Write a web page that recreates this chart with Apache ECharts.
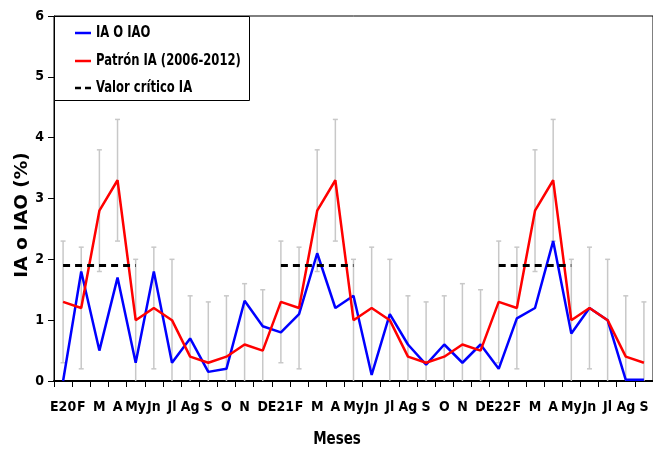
<!DOCTYPE html>
<html>
<head>
<meta charset="utf-8">
<script src="https://cdn.jsdelivr.net/npm/echarts@6/dist/echarts.min.js"></script>
<style>
  html, body { margin: 0; padding: 0; background: #fff; }
  #chart { width: 653px; height: 456px; }
</style>
</head>
<body>
<div id="chart"></div>
<script>
// Meses (enero 2020 a septiembre 2022)
var meses = ['E20','F','M','A','My','Jn','Jl','Ag','S','O','N','D',
             'E21','F','M','A','My','Jn','Jl','Ag','S','O','N','D',
             'E22','F','M','A','My','Jn','Jl','Ag','S'];

// Índice de infestación observado
var iaObservado = [0, 1.8, 0.5, 1.7, 0.3, 1.8, 0.3, 0.7, 0.15, 0.2, 1.32, 0.9,
                   0.8, 1.1, 2.1, 1.2, 1.4, 0.1, 1.1, 0.6, 0.27, 0.6, 0.3, 0.6,
                   0.2, 1.03, 1.2, 2.3, 0.78, 1.2, 1.0, 0.02, 0.02];

// Patrón histórico 2006-2012
var patronIA = [1.3, 1.2, 2.8, 3.3, 1.0, 1.2, 1.0, 0.4, 0.3, 0.4, 0.6, 0.5,
                1.3, 1.2, 2.8, 3.3, 1.0, 1.2, 1.0, 0.4, 0.3, 0.4, 0.6, 0.5,
                1.3, 1.2, 2.8, 3.3, 1.0, 1.2, 1.0, 0.4, 0.3];

// Desviación del patrón (barras de error)
var desviacion = [1.0, 1.0, 1.0, 1.0, 1.0, 1.0, 1.0, 1.0, 1.0, 1.0, 1.0, 1.0,
                  1.0, 1.0, 1.0, 1.0, 1.0, 1.0, 1.0, 1.0, 1.0, 1.0, 1.0, 1.0,
                  1.0, 1.0, 1.0, 1.0, 1.0, 1.0, 1.0, 1.0, 1.0];

// Valor crítico (enero a mayo de cada año)
var valorCritico = [1.9, 1.9, 1.9, 1.9, 1.9, null, null, null, null, null, null, null,
                    1.9, 1.9, 1.9, 1.9, 1.9, null, null, null, null, null, null, null,
                    1.9, 1.9, 1.9, 1.9, 1.9, null, null, null, null];

var yTicks = [0, 1, 2, 3, 4, 5, 6];

var leyenda = ['IA O IAO', 'Patrón IA (2006-2012)', 'Valor crítico IA'];

var FONT = "'DejaVu Sans Condensed', 'DejaVu Sans', sans-serif";
var AZUL = '#0000ff', ROJO = '#ff0000', NEGRO = '#000';

var errData = patronIA.map(function (v, i) {
  return [i, v - desviacion[i], v + desviacion[i]];
});

// Legend box drawn as graphics: frame, line samples and labels
function legendGraphics() {
  var x0 = 54, y0 = 16, rows = [33, 61, 88];
  var styles = [
    { stroke: AZUL, lineWidth: 2.5 },
    { stroke: ROJO, lineWidth: 2.5 },
    { stroke: NEGRO, lineWidth: 2.5, lineDash: [6, 4] }
  ];
  var els = [{
    type: 'rect', z: 10,
    shape: { x: x0 + 0.5, y: y0 + 0.5, width: 195, height: 84 },
    style: { fill: '#fff', stroke: NEGRO, lineWidth: 1 }
  }];
  leyenda.forEach(function (name, k) {
    els.push({
      type: 'line', z: 11,
      shape: { x1: 75, y1: rows[k], x2: 91, y2: rows[k] },
      style: styles[k]
    });
    els.push({
      type: 'text', z: 11, x: 96, y: rows[k], scaleX: 0.86,
      style: { text: name, fontFamily: FONT, fontWeight: 'bold', fontSize: 15,
               fill: NEGRO, verticalAlign: 'middle' }
    });
  });
  return els;
}

var chart = echarts.init(document.getElementById('chart'), null, { renderer: 'canvas' });

chart.setOption({
  animation: false,
  backgroundColor: '#fff',
  grid: {
    left: 54, top: 16, width: 600, bottom: 75,
    show: true, borderColor: NEGRO, borderWidth: 1, backgroundColor: 'transparent'
  },
  xAxis: {
    type: 'category',
    data: meses,
    boundaryGap: true,
    axisLine: { lineStyle: { color: NEGRO, width: 2 } },
    axisTick: { show: true, interval: 0, length: 6, lineStyle: { color: NEGRO, width: 1 } },
    axisLabel: {
      interval: 0, margin: 19, color: NEGRO,
      fontFamily: FONT, fontWeight: 'bold', fontSize: 14
    },
    splitLine: { show: false }
  },
  yAxis: {
    type: 'value',
    min: yTicks[0], max: yTicks[yTicks.length - 1], interval: 1,
    axisLine: { show: true, lineStyle: { color: NEGRO, width: 1 } },
    axisTick: { show: true, length: 6, lineStyle: { color: NEGRO } },
    axisLabel: {
      margin: 10, color: NEGRO,
      fontFamily: FONT, fontWeight: 'bold', fontSize: 14
    },
    splitLine: { show: false }
  },
  graphic: legendGraphics().concat([
    {
      type: 'text', x: 22, y: 215, rotation: Math.PI / 2, scaleX: 1.14,
      style: { text: 'IA o IAO (%)', fontFamily: FONT, fontWeight: 'bold', fontSize: 18,
               fill: NEGRO, align: 'center', verticalAlign: 'middle' }
    },
    {
      type: 'text', x: 337, y: 440, scaleX: 0.88,
      style: { text: 'Meses', fontFamily: FONT, fontWeight: 'bold', fontSize: 17, fill: NEGRO,
               align: 'center', verticalAlign: 'middle' }
    }
  ]),
  series: [
    {
      name: 'Desviación',
      type: 'custom',
      z: 1,
      clip: true,
      data: errData,
      renderItem: function (params, api) {
        var i = api.value(0);
        var lo = Math.max(0, api.value(1));
        var hi = api.value(2);
        var pHi = api.coord([i, hi]);
        var pLo = api.coord([i, lo]);
        var cap = 2.5;
        var st = { stroke: '#c8c8c8', lineWidth: 1.5 };
        var kids = [
          { type: 'line', shape: { x1: pHi[0], y1: pHi[1], x2: pLo[0], y2: pLo[1] }, style: st },
          { type: 'line', shape: { x1: pHi[0] - cap, y1: pHi[1], x2: pHi[0] + cap, y2: pHi[1] }, style: st }
        ];
        if (api.value(1) > 0) {
          kids.push({ type: 'line', shape: { x1: pLo[0] - cap, y1: pLo[1], x2: pLo[0] + cap, y2: pLo[1] }, style: st });
        }
        return { type: 'group', children: kids };
      }
    },
    {
      name: leyenda[0],
      type: 'line',
      data: iaObservado,
      symbol: 'none',
      z: 3,
      lineStyle: { color: AZUL, width: 2.5 }
    },
    {
      name: leyenda[1],
      type: 'line',
      data: patronIA,
      symbol: 'none',
      z: 4,
      lineStyle: { color: ROJO, width: 2.5 }
    },
    {
      name: leyenda[2],
      type: 'line',
      data: valorCritico,
      symbol: 'none',
      connectNulls: false,
      z: 5,
      lineStyle: { color: NEGRO, width: 3, type: [7, 5] }
    }
  ]
});
</script>
</body>
</html>
